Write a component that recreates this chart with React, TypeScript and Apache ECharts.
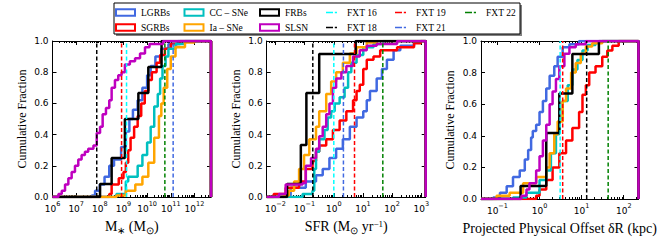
import React, { useEffect, useRef } from 'react';
import * as echarts from 'echarts';

// ---------- names & colours ----------
const HIST_NAMES = ['LGRBs', 'SGRBs', 'CC – SNe', 'Ia – SNe', 'FRBs', 'SLSN'];
const HIST_COLORS = ['#4169E1', '#FF0000', '#00BFBF', '#FFA500', '#000000', '#BF00BF'];
const FXT_NAMES = ['FXT 16', 'FXT 18', 'FXT 19', 'FXT 21', 'FXT 22'];
const FXT_COLORS = ['#00FFFF', '#000000', '#FF0000', '#4169E1', '#008000'];
const LEGEND_COLUMNS = [
  ['LGRBs', 'SGRBs'],
  ['CC – SNe', 'Ia – SNe'],
  ['FRBs', 'SLSN'],
  ['FXT 16', 'FXT 18'],
  ['FXT 19', 'FXT 21'],
  ['FXT 22'],
];

// ---------- axes (log10 units) ----------
const X_RANGES = [
  [6, 12.7],
  [-2.3, 3.15],
  [-1.39, 2.35],
];
const X_MAJOR_TICKS = [
  [6, 7, 8, 9, 10, 11, 12],
  [-2, -1, 0, 1, 2, 3],
  [-1, 0, 1, 2],
];
const Y_TICKS = [0, 0.2, 0.4, 0.6, 0.8, 1.0];

// ---------- Panel 1: stellar mass, [log10 M*, cumulative fraction] ----------
const MASS_LGRB = [[7.66, 0.01], [7.8, 0.04], [8.0, 0.08], [8.2, 0.13], [8.4, 0.2], [8.6, 0.24], [8.9, 0.32], [9.1, 0.42], [9.25, 0.5], [9.4, 0.56], [9.6, 0.62], [9.8, 0.7], [10.0, 0.78], [10.15, 0.84], [10.35, 0.9], [10.6, 0.95], [10.9, 0.98], [11.3, 1.0]];
const MASS_SGRB = [[8.4, 0.02], [8.5, 0.08], [8.8, 0.12], [9.0, 0.16], [9.1, 0.22], [9.2, 0.3], [9.3, 0.38], [9.45, 0.45], [9.6, 0.52], [9.75, 0.6], [9.9, 0.68], [10.05, 0.75], [10.2, 0.8], [10.4, 0.86], [10.55, 0.91], [10.75, 0.95], [11.0, 0.98], [11.4, 1.0]];
const MASS_CC = [[8.7, 0.02], [9.1, 0.1], [9.2, 0.13], [9.6, 0.2], [9.8, 0.27], [10.0, 0.35], [10.15, 0.45], [10.3, 0.58], [10.45, 0.66], [10.55, 0.76], [10.65, 0.84], [10.78, 0.9], [10.9, 0.95], [11.2, 0.98], [11.6, 1.0]];
const MASS_IA = [[8.7, 0.01], [9.1, 0.04], [9.5, 0.08], [9.8, 0.13], [10.05, 0.22], [10.3, 0.38], [10.5, 0.52], [10.6, 0.6], [10.7, 0.7], [10.85, 0.82], [11.0, 0.9], [11.2, 0.96], [11.6, 0.99], [12.0, 1.0]];
const MASS_FRB = [[8.01, 0.083], [8.5, 0.25], [9.06, 0.5], [9.63, 0.667], [10.05, 0.833], [10.61, 1.0]];
const MASS_SLSN = [[6.25, 0.02], [6.39, 0.04], [6.53, 0.08], [6.67, 0.12], [6.81, 0.16], [6.95, 0.2], [7.09, 0.24], [7.23, 0.27], [7.37, 0.29], [7.51, 0.31], [7.73, 0.33], [7.87, 0.41], [8.01, 0.45], [8.12, 0.53], [8.26, 0.57], [8.4, 0.62], [8.5, 0.7], [8.64, 0.75], [8.78, 0.78], [8.92, 0.8], [9.06, 0.85], [9.27, 0.87], [9.49, 0.89], [9.7, 0.92], [9.91, 0.96], [10.1, 0.98], [10.68, 1.0]];
const MASS_FXT = [9.13, 7.87, 8.92, 11.1, 10.75];

// ---------- Panel 2: SFR, [log10 SFR, cumulative fraction] ----------
const SFR_LGRB = [[-1.65, 0.01], [-1.48, 0.06], [-0.96, 0.1], [-0.61, 0.14], [-0.38, 0.18], [-0.15, 0.25], [0.08, 0.31], [0.31, 0.37], [0.55, 0.45], [0.78, 0.51], [1.01, 0.55], [1.13, 0.62], [1.24, 0.68], [1.47, 0.76], [1.65, 0.82], [1.82, 0.88], [2.05, 0.94], [2.28, 0.97], [2.75, 0.99], [2.98, 1.0]];
const SFR_SGRB = [[-2.06, 0.02], [-1.65, 0.06], [-1.19, 0.1], [-0.96, 0.18], [-0.73, 0.23], [-0.61, 0.29], [-0.5, 0.33], [-0.26, 0.37], [-0.03, 0.43], [0.2, 0.49], [0.43, 0.55], [0.66, 0.62], [0.78, 0.68], [0.89, 0.72], [1.01, 0.82], [1.13, 0.88], [1.36, 0.9], [1.59, 0.94], [2.17, 0.96], [2.75, 0.985], [2.98, 1.0]];
const SFR_CC = [[-1.07, 0.02], [-0.73, 0.04], [-0.67, 0.18], [-0.61, 0.29], [-0.5, 0.37], [-0.32, 0.43], [-0.21, 0.51], [-0.09, 0.55], [0.03, 0.6], [0.2, 0.64], [0.37, 0.7], [0.49, 0.8], [0.6, 0.86], [0.78, 0.91], [1.01, 0.96], [1.36, 0.98], [1.7, 1.0]];
const SFR_IA = [[-1.71, 0.01], [-1.54, 0.04], [-1.36, 0.1], [-1.19, 0.18], [-1.02, 0.27], [-0.84, 0.37], [-0.61, 0.45], [-0.5, 0.55], [-0.26, 0.66], [-0.09, 0.74], [0.08, 0.8], [0.31, 0.86], [0.55, 0.92], [0.78, 0.96], [1.13, 0.99], [1.47, 1.0]];
const SFR_FRB = [[-1.6, 0.083], [-1.13, 0.333], [-0.94, 0.667], [-0.5, 0.917], [0.75, 1.0]];
const SFR_SLSN = [[-1.88, 0.02], [-1.65, 0.08], [-1.07, 0.09], [-0.96, 0.2], [-0.78, 0.25], [-0.61, 0.31], [-0.5, 0.39], [-0.38, 0.45], [-0.26, 0.53], [-0.15, 0.6], [-0.03, 0.7], [0.08, 0.76], [0.26, 0.8], [0.43, 0.84], [0.66, 0.9], [0.89, 0.94], [1.13, 0.97], [1.47, 0.98], [2.17, 1.0]];
const SFR_FXT = [0.0, -0.72, 0.71, 0.33, 1.68];

// ---------- Panel 3: offset, [log10 dR/kpc, cumulative fraction] ----------
const OFF_LGRB = [[-1.1, 0.01], [-0.94, 0.04], [-0.78, 0.08], [-0.63, 0.14], [-0.47, 0.18], [-0.35, 0.25], [-0.27, 0.31], [-0.2, 0.39], [-0.16, 0.43], [-0.08, 0.47], [0.0, 0.55], [0.08, 0.62], [0.16, 0.7], [0.24, 0.78], [0.35, 0.84], [0.43, 0.9], [0.55, 0.96], [0.71, 0.98], [0.94, 1.0]];
const OFF_SGRB = [[-0.08, 0.02], [0.0, 0.06], [0.16, 0.12], [0.31, 0.2], [0.47, 0.29], [0.63, 0.37], [0.78, 0.45], [0.94, 0.55], [1.02, 0.66], [1.1, 0.72], [1.18, 0.8], [1.33, 0.84], [1.49, 0.9], [1.61, 0.94], [1.73, 0.97], [1.88, 1.0]];
const OFF_CC = [[-0.63, 0.01], [-0.31, 0.04], [0.0, 0.12], [0.16, 0.18], [0.27, 0.29], [0.39, 0.41], [0.47, 0.51], [0.55, 0.62], [0.67, 0.72], [0.78, 0.82], [0.9, 0.88], [1.02, 0.94], [1.14, 0.975], [1.33, 0.99], [1.49, 1.0]];
const OFF_IA = [[-1.02, 0.02], [-0.71, 0.04], [-0.39, 0.1], [-0.08, 0.14], [0.16, 0.2], [0.24, 0.29], [0.35, 0.41], [0.43, 0.49], [0.55, 0.62], [0.63, 0.7], [0.75, 0.8], [0.86, 0.86], [0.98, 0.92], [1.1, 0.965], [1.25, 0.985], [1.49, 1.0]];
const OFF_FRB = [[-0.45, 0.083], [0.16, 0.417], [0.47, 0.667], [0.78, 0.917], [1.41, 1.0]];
const OFF_SLSN = [[-0.43, 0.02], [-0.31, 0.06], [-0.24, 0.1], [-0.08, 0.18], [0.0, 0.27], [0.08, 0.37], [0.16, 0.47], [0.24, 0.6], [0.31, 0.68], [0.39, 0.76], [0.47, 0.84], [0.59, 0.92], [0.71, 0.96], [0.86, 0.98], [1.1, 1.0]];
const OFF_FXT = [0.49, 1.12, 0.55, null, 1.63];

const PANEL_HISTS = [
  [MASS_LGRB, MASS_SGRB, MASS_CC, MASS_IA, MASS_FRB, MASS_SLSN],
  [SFR_LGRB, SFR_SGRB, SFR_CC, SFR_IA, SFR_FRB, SFR_SLSN],
  [OFF_LGRB, OFF_SGRB, OFF_CC, OFF_IA, OFF_FRB, OFF_SLSN],
];
const PANEL_FXT = [MASS_FXT, SFR_FXT, OFF_FXT];

// ---------- layout ----------
const W = 660;
const H = 240;
const GRID_LEFT = [52.5, 266.7, 481];
const GRID_WIDTH = [158.5, 159, 159];
const GRID_TOP = 41;
const GRID_HEIGHT = 162.3;
const LEGEND_LEFT = [115, 183.5, 259, 326, 395, 465];
const SERIF = 'Liberation Serif';
const SANS = 'DejaVu Sans';

const X_NAMES = [
  '{n|M}{sub|∗}{n| (M}{sub|⊙}{n|)}',
  '{n|SFR (M}{sub|⊙}{n| yr}{sup|−1}{n|)}',
  '{n|Projected Physical Offset δR (kpc)}',
];

const nameRich = {
  n: { fontFamily: SERIF, fontSize: 14, color: '#000', lineHeight: 16, verticalAlign: 'top' },
  sub: { fontFamily: SERIF, fontSize: 10, color: '#000', lineHeight: 11, verticalAlign: 'bottom' },
  sup: { fontFamily: SERIF, fontSize: 9, color: '#000', lineHeight: 9, verticalAlign: 'top' },
};

function minorTicks(range: number[]) {
  const out: number[] = [];
  for (let n = Math.floor(range[0]) - 1; n <= Math.ceil(range[1]); n++) {
    for (let k = 2; k <= 9; k++) {
      const v = n + Math.log10(k);
      if (v > range[0] && v < range[1]) out.push(v);
    }
  }
  return out;
}

function fmtExp(v: number) {
  const e = Math.round(v);
  const s = e < 0 ? '−' + Math.abs(e) : String(e);
  return '{b|10}{s|' + s + '}';
}

function buildOption() {
  const grid: any[] = [];
  const xAxis: any[] = [];
  const yAxis: any[] = [];
  const series: any[] = [];
  const lineSt = { color: '#000', width: 1 };

  for (let p = 0; p < 3; p++) {
    grid.push({ left: GRID_LEFT[p], top: GRID_TOP, width: GRID_WIDTH[p], height: GRID_HEIGHT });
    const [xmin, xmax] = X_RANGES[p];
    const minors = minorTicks(X_RANGES[p]);
    const base = { gridIndex: p, type: 'value', min: xmin, max: xmax, splitLine: { show: false } };
    xAxis.push({
      ...base,
      position: 'bottom',
      axisLine: { show: true, onZero: false, lineStyle: lineSt },
      axisTick: { show: true, inside: true, length: 4, customValues: X_MAJOR_TICKS[p], lineStyle: lineSt },
      axisLabel: {
        show: true,
        customValues: X_MAJOR_TICKS[p],
        margin: 3,
        formatter: (v: number) => fmtExp(v),
        rich: {
          b: { fontFamily: SANS, fontSize: 9, color: '#000', lineHeight: 13, verticalAlign: 'bottom' },
          s: { fontFamily: SANS, fontSize: 6.5, color: '#000', lineHeight: 8, verticalAlign: 'top' },
        },
      },
      name: X_NAMES[p],
      nameLocation: 'middle',
      nameGap: 22,
      nameTextStyle: { rich: nameRich },
    });
    xAxis.push({
      ...base,
      position: 'bottom',
      axisLine: { show: false, onZero: false },
      axisTick: { show: true, inside: true, length: 2, customValues: minors, lineStyle: lineSt },
      axisLabel: { show: false },
    });
    xAxis.push({
      ...base,
      position: 'top',
      axisLine: { show: true, onZero: false, lineStyle: lineSt },
      axisTick: { show: true, inside: true, length: 4, customValues: X_MAJOR_TICKS[p], lineStyle: lineSt },
      axisLabel: { show: false },
    });
    xAxis.push({
      ...base,
      position: 'top',
      axisLine: { show: false, onZero: false },
      axisTick: { show: true, inside: true, length: 2, customValues: minors, lineStyle: lineSt },
      axisLabel: { show: false },
    });

    yAxis.push({
      gridIndex: p,
      type: 'value',
      min: 0,
      max: 1,
      interval: 0.2,
      position: 'left',
      splitLine: { show: false },
      axisLine: { show: true, onZero: false, lineStyle: lineSt },
      axisTick: { show: true, inside: true, length: 4, customValues: Y_TICKS, lineStyle: lineSt },
      axisLabel: {
        show: true,
        customValues: Y_TICKS,
        margin: 4,
        formatter: (v: number) => v.toFixed(1),
        fontFamily: SANS,
        fontSize: 9,
        color: '#000',
      },
      name: 'Cumulative Fraction',
      nameLocation: 'middle',
      nameGap: 25,
      nameTextStyle: { fontFamily: SERIF, fontSize: 12, color: '#000' },
    });
    yAxis.push({
      gridIndex: p,
      type: 'value',
      min: 0,
      max: 1,
      interval: 0.2,
      position: 'right',
      splitLine: { show: false },
      axisLine: { show: true, onZero: false, lineStyle: lineSt },
      axisTick: { show: true, inside: true, length: 4, customValues: Y_TICKS, lineStyle: lineSt },
      axisLabel: { show: false },
    });

    const xi = p * 4;
    const yi = p * 2;
    PANEL_HISTS[p].forEach((pts, i) => {
      const last = pts[pts.length - 1];
      const data = [[xmin, 0], ...pts, [xmax, last[1]], [xmax, 0]];
      series.push({
        type: 'line',
        name: HIST_NAMES[i],
        xAxisIndex: xi,
        yAxisIndex: yi,
        step: 'end',
        symbol: 'none',
        showSymbol: false,
        color: HIST_COLORS[i],
        lineStyle: { width: 2.5, color: HIST_COLORS[i] },
        data,
        z: 2 + i * 0.01,
      });
    });
    PANEL_FXT[p].forEach((x, i) => {
      if (x == null) return;
      series.push({
        type: 'line',
        name: FXT_NAMES[i],
        xAxisIndex: xi,
        yAxisIndex: yi,
        symbol: 'none',
        showSymbol: false,
        color: FXT_COLORS[i],
        lineStyle: { width: 1.5, color: FXT_COLORS[i], type: [4, 2.5] },
        data: [[x, 0], [x, 1]],
        z: 3,
      });
    });
  }

  const colorOf = (n: string) => {
    const hi = HIST_NAMES.indexOf(n);
    return hi >= 0 ? HIST_COLORS[hi] : FXT_COLORS[FXT_NAMES.indexOf(n)];
  };

  const legend = LEGEND_COLUMNS.map((names, ci) => {
    const isFxt = ci >= 3;
    return {
      left: LEGEND_LEFT[ci],
      top: 7,
      orient: 'vertical',
      padding: 0,
      itemGap: 4,
      selectedMode: false,
      data: names.map((n) =>
        isFxt
          ? { name: n, itemStyle: { color: colorOf(n), borderWidth: 0 } }
          : { name: n, itemStyle: { color: '#fff', borderColor: colorOf(n), borderWidth: 2 } }
      ),
      itemWidth: isFxt ? 11 : 19,
      itemHeight: isFxt ? 1.6 : 6.5,
      icon: isFxt ? 'path://M0,0H7V1.6H0Z M8.8,0H11V1.6H8.8Z' : 'rect',
      textStyle: {
        fontFamily: SERIF,
        fontSize: 9.5,
        color: '#000',
        lineHeight: 11,
        padding: isFxt ? [0, 0, 0, 5] : [0, 0, 0, 1],
      },
    };
  });

  const graphic = [
    { type: 'rect', shape: { x: 116, y: 5, width: 406, height: 31 }, style: { fill: '#808080' }, z: -1, silent: true },
    { type: 'rect', shape: { x: 114, y: 3, width: 406, height: 31 }, style: { fill: '#fff', stroke: '#000', lineWidth: 1 }, z: 0, silent: true },
  ];

  return { animation: false, backgroundColor: '#fff', grid, xAxis, yAxis, series, legend, graphic };
}

export default function App() {
  const ref = useRef<HTMLDivElement>(null);
  useEffect(() => {
    if (!ref.current) return;
    const chart = echarts.init(ref.current, undefined, { renderer: 'svg', width: W, height: H });
    chart.setOption(buildOption() as any);
    return () => chart.dispose();
  }, []);
  return <div ref={ref} style={{ position: 'fixed', left: 0, top: 0, width: W, height: H, background: '#fff' }} />;
}
